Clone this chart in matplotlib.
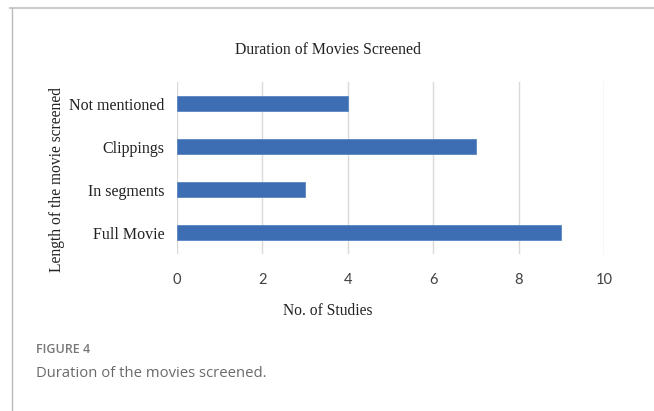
import matplotlib
matplotlib.use("Agg")
import matplotlib.pyplot as plt
from matplotlib.lines import Line2D

categories = ["Full Movie", "In segments", "Clippings", "Not mentioned"]
values = [9, 3, 7, 4]
xticks = [0, 2, 4, 6, 8, 10]

fig = plt.figure(figsize=(6.54, 4.11), dpi=100)
ax = fig.add_axes([177/654, 1-254/411, (604-177)/654, (254-82)/411])

serif = "Liberation Serif"
ax.barh(range(len(categories)), values, height=0.35, color="#3D6EB4",
        edgecolor="#5A86C4", linewidth=0.6, zorder=3)
ax.set_xlim(0, 10)
ax.set_ylim(-0.5, 3.5)
ax.set_xticks(xticks)
ax.set_xticklabels([str(t) for t in xticks], fontfamily="Lato", fontsize=10.5, color="#404040")
ax.set_yticks(range(len(categories)))
ax.set_yticklabels(categories, fontfamily=serif, fontsize=11.5, color="#222222")
ax.tick_params(axis="both", length=0)
ax.tick_params(axis="x", pad=14)
ax.tick_params(axis="y", pad=9)
ax.grid(axis="x", color="#D9D9D9", linewidth=1, zorder=0)
for s in ax.spines.values():
    s.set_visible(False)

fig.text(328/654, 1-311/411, "No. of Studies", fontfamily=serif, fontsize=11.2,
         color="#222222", ha="center", va="center")
fig.text(57/654, 1-180/411, "Length of the movie screened", rotation=90, fontfamily=serif,
         fontsize=11.2, color="#222222", ha="center", va="center")
fig.text(328/654, 1-50/411, "Duration of Movies Screened", fontfamily=serif, fontsize=11.3,
         color="#222222", ha="center", va="center")

# frame lines
fig.add_artist(Line2D([10/654, 1], [1-8.5/411]*2, color="#CCCCCC", linewidth=1.5))
fig.add_artist(Line2D([12/654]*2, [0, 1-8.5/411], color="#BBBBBB", linewidth=1))

fig.text(36/654, 1-349/411, "FIGURE 4", fontfamily="Open Sans", fontsize=9,
         fontweight="semibold", color="#777777", ha="left", va="center")
fig.text(36/654, 1-373/411, "Duration of the movies screened.", fontfamily="Open Sans",
         fontsize=10.7, color="#6A6A6A", ha="left", va="center")

fig.savefig("out.png", dpi=100)
